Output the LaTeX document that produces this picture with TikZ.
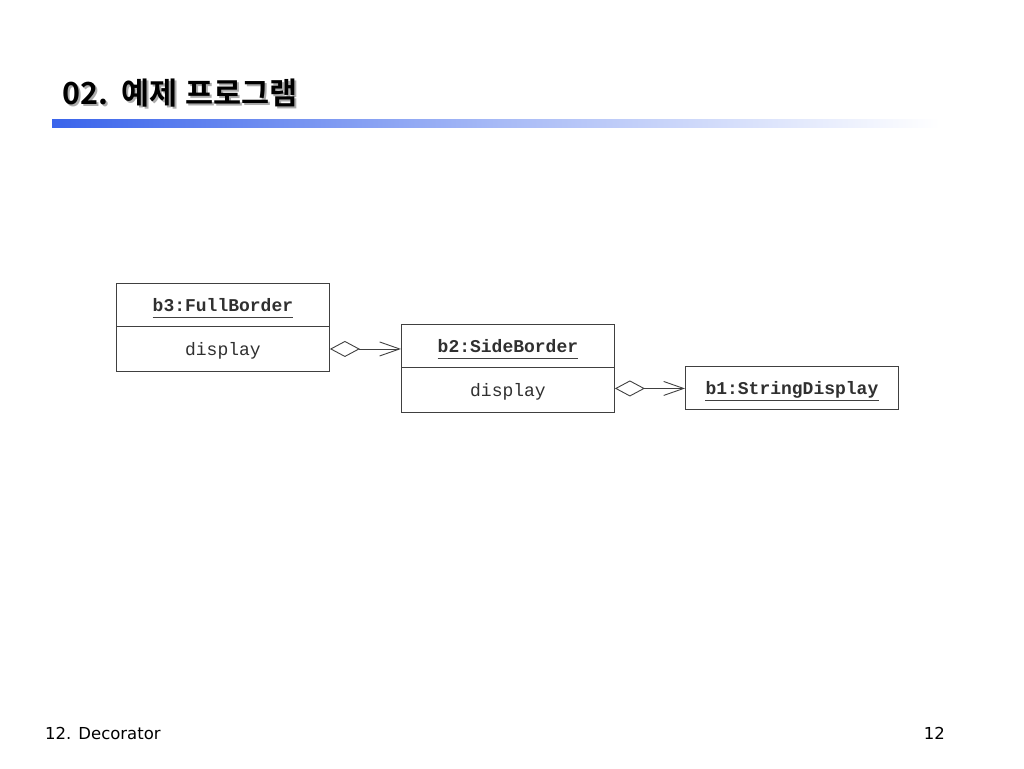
\documentclass[tikz,border=0pt]{standalone}
\usepackage{fontspec}
\usetikzlibrary{arrows.meta,calc}
\newfontfamily\krfont{Noto Sans CJK KR Bold}
\newfontfamily\monofnt{Liberation Mono}
\newfontfamily\footfnt{DejaVu Sans}
\definecolor{linec}{HTML}{404040}
\definecolor{txtc}{HTML}{303030}
\definecolor{barblue}{RGB}{58,100,235}
\newcommand{\titletext}{02.\hspace{13pt}예제\hspace{8pt}프로그램}
\tikzset{
  x=1pt,y=-1pt,
  comp/.style={draw=linec, line width=0.9pt, minimum width=213pt, inner sep=0pt, anchor=north west},
  mono/.style={font=\monofnt\fontsize{18}{20}\selectfont, text=txtc, inner sep=0pt, anchor=base},
  monob/.style={mono, font=\monofnt\bfseries\fontsize{18}{20}\selectfont},
  uline/.style={draw=linec, line width=0.8pt},
  assoc/.style={draw=linec, line width=0.9pt, {Diamond[open,length=30pt,width=16pt]}-{Straight Barb[length=20pt,width=14pt]}},
  foot/.style={font=\footfnt\fontsize{16.5}{18}\selectfont, text=black, inner sep=0pt},
  ttl/.style={font=\krfont\fontsize{30.5}{32}\selectfont, anchor=base west, inner sep=0pt},
}
\begin{document}
\begin{tikzpicture}
\useasboundingbox (0,0) rectangle (1024,768);
\fill[white] (0,0) rectangle (1024,768);
% title
\node[ttl, text=gray!65] (tshadow) at (64.5,106.5) {\titletext};
\node[ttl, text=black] (title) at (62,104) {\titletext};
\shade[left color=barblue, right color=white, middle color=barblue!45] (52,119) rectangle (940,127);
% b3
\node[comp, minimum height=43pt] (b3top) at (116,283) {};
\node[comp, minimum height=45pt] (b3bot) at (116,326) {};
\node[monob] (b3t) at ($(b3top.center)+(0,7)$) {b3:FullBorder};
\draw[uline] ([yshift=-5pt]b3t.base west) -- ([yshift=-5pt]b3t.base east);
\node[mono] (b3d) at ($(b3bot.center)+(0,7)$) {display};
% b2
\node[comp, minimum height=43pt] (b2top) at (401,324) {};
\node[comp, minimum height=45pt] (b2bot) at (401,367) {};
\node[monob] (b2t) at ($(b2top.center)+(0,7)$) {b2:SideBorder};
\draw[uline] ([yshift=-5pt]b2t.base west) -- ([yshift=-5pt]b2t.base east);
\node[mono] (b2d) at ($(b2bot.center)+(0,7)$) {display};
% b1
\node[comp, minimum height=43pt] (b1) at (685,366) {};
\node[monob] (b1t) at ($(b1.center)+(0,7)$) {b1:StringDisplay};
\draw[uline] ([yshift=-5pt]b1t.base west) -- ([yshift=-5pt]b1t.base east);
% connectors
\draw[assoc] (b3bot.east) -- (b3bot.east -| b2top.west);
\draw[assoc] ([yshift=1.5pt]b2bot.east) -- ([yshift=1.5pt]b2bot.east -| b1.west);
% footer
\node[foot, anchor=base west] (ftl) at (45,739) {12. Decorator};
\node[foot, anchor=base east] (ftr) at (945,739) {12};
\end{tikzpicture}
\end{document}
